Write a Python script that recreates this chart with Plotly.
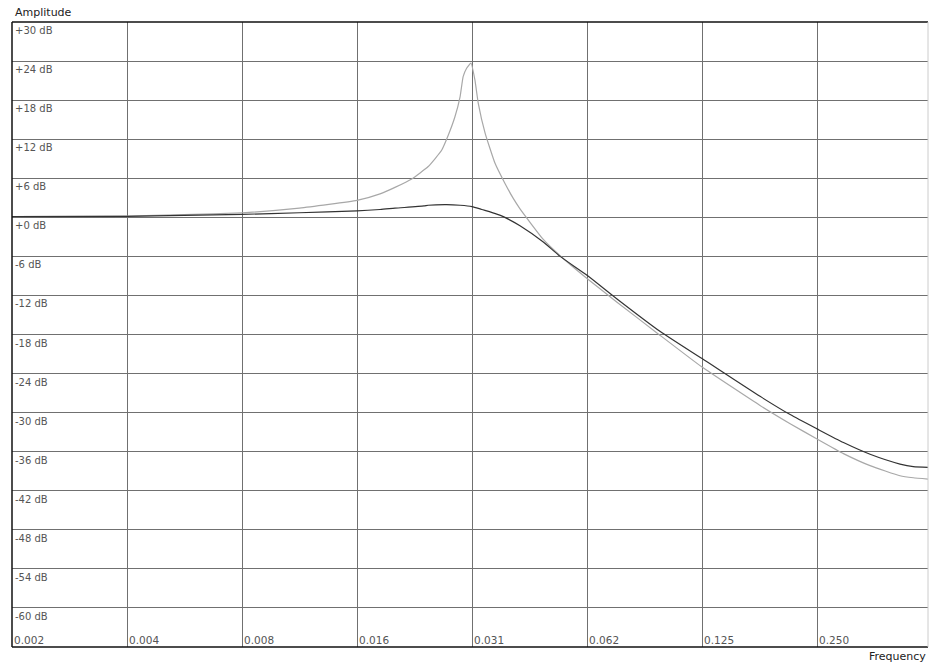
import math
import plotly.graph_objects as go

# ---- data ----
x_tick_vals = [1/512, 1/256, 1/128, 1/64, 1/32, 1/16, 1/8, 1/4]
x_tick_text = ["0.002", "0.004", "0.008", "0.016", "0.031", "0.062", "0.125", "0.250"]
y_tick_vals = [30, 24, 18, 12, 6, 0, -6, -12, -18, -24, -30, -36, -42, -48, -54, -60]
y_tick_text = ["+30 dB", "+24 dB", "+18 dB", "+12 dB", "+6 dB", "+0 dB", "-6 dB", "-12 dB",
               "-18 dB", "-24 dB", "-30 dB", "-36 dB", "-42 dB", "-48 dB", "-54 dB", "-60 dB"]

light_freq = [0.001953, 0.003906, 0.00551, 0.0078125, 0.01104, 0.015625, 0.01795, 0.01964,
              0.02173, 0.02400, 0.02602, 0.02708, 0.02818, 0.02908, 0.02962, 0.03025,
              0.03105, 0.03180, 0.03245, 0.03383, 0.03590, 0.03812, 0.04007, 0.04173,
              0.04802, 0.05315, 0.0625, 0.07474, 0.09697, 0.125, 0.1773, 0.2126, 0.25,
              0.2932, 0.3442, 0.4123, 0.4466, 0.488]
light_db = [0.1, 0.2, 0.4, 0.7, 1.4, 2.6, 3.6, 4.6,
            5.9, 7.8, 10.3, 12.6, 15.4, 18.5, 21.6, 22.9,
            23.7, 21.1, 17.5, 12.9, 8.3, 5.2, 2.9, 1.3,
            -3.4, -5.9, -9.4, -13.0, -18.1, -23.0, -28.9, -31.7, -34.05,
            -36.3, -38.15, -39.7, -40.0, -40.2]

dark_freq = [0.001953, 0.003906, 0.00551, 0.0078125, 0.01104, 0.015625, 0.01795, 0.01964,
             0.0234, 0.02400, 0.0268, 0.02908, 0.03125, 0.03314, 0.03628, 0.03774, 0.04173,
             0.04802, 0.05315, 0.0625, 0.07474, 0.09697, 0.125, 0.1773, 0.2126, 0.25,
             0.2932, 0.3442, 0.4123, 0.4466, 0.488]
dark_db = [0.1, 0.15, 0.3, 0.45, 0.7, 1.0, 1.2, 1.4,
           1.75, 1.85, 1.95, 1.85, 1.65, 1.2, 0.5, 0.1, -1.3,
           -3.8, -6.0, -8.9, -12.5, -17.5, -21.7, -27.5, -30.3, -32.5,
           -34.6, -36.4, -37.9, -38.3, -38.4]

x_min, x_max = 1/512, 0.488
y_min, y_max = -66, 30

fig = go.Figure()
fig.add_trace(go.Scatter(x=light_freq, y=light_db, mode="lines",
                         line=dict(color="#a8a8a8", width=1.2, shape="spline", smoothing=0.4),
                         hoverinfo="skip", showlegend=False))
fig.add_trace(go.Scatter(x=dark_freq, y=dark_db, mode="lines",
                         line=dict(color="#333333", width=1.2, shape="spline", smoothing=0.6),
                         hoverinfo="skip", showlegend=False))

annotations = []
for v, t in zip(y_tick_vals, y_tick_text):
    annotations.append(dict(x=0, xref="paper", y=v, yref="y", text=t, showarrow=False,
                            xanchor="left", yanchor="top", xshift=1, yshift=-1,
                            font=dict(family="DejaVu Sans", size=10, color="#555555")))
for v, t in zip(x_tick_vals, x_tick_text):
    annotations.append(dict(x=math.log10(v), xref="x", y=0, yref="paper", text=t, showarrow=False,
                            xanchor="left", yanchor="bottom", xshift=0, yshift=-1,
                            font=dict(family="DejaVu Sans", size=10.5, color="#555555")))
annotations.append(dict(x=0, xref="paper", y=1, yref="paper", text="Amplitude", showarrow=False,
                        xanchor="left", yanchor="bottom", xshift=1, yshift=1,
                        font=dict(family="DejaVu Sans", size=11, color="#222222")))
annotations.append(dict(x=1, xref="paper", y=0, yref="paper", text="Frequency", showarrow=False,
                        xanchor="right", yanchor="top", xshift=0, yshift=-1,
                        font=dict(family="DejaVu Sans", size=11, color="#222222")))

fig.update_layout(
    width=929, height=665,
    margin=dict(l=12, r=1, t=22, b=18),
    paper_bgcolor="white", plot_bgcolor="white",
    annotations=annotations,
    xaxis=dict(type="log", range=[math.log10(x_min), math.log10(x_max)],
               tickvals=x_tick_vals, showticklabels=False, ticks="",
               showgrid=True, gridcolor="#707070", gridwidth=1,
               zeroline=False, showline=False, fixedrange=True),
    yaxis=dict(range=[y_min, y_max], tickvals=y_tick_vals, showticklabels=False, ticks="",
               showgrid=True, gridcolor="#707070", gridwidth=1,
               zeroline=False, showline=False, fixedrange=True),
    shapes=[
        dict(type="line", xref="paper", yref="paper", x0=0, x1=0, y0=0, y1=1,
             line=dict(color="#111111", width=1.5)),
        dict(type="line", xref="paper", yref="paper", x0=0, x1=1, y0=0, y1=0,
             line=dict(color="#111111", width=1.5)),
        dict(type="line", xref="paper", yref="paper", x0=0, x1=1, y0=1, y1=1,
             line=dict(color="#111111", width=1.5)),
        dict(type="line", xref="paper", yref="paper", x0=1, x1=1, y0=0, y1=1,
             line=dict(color="#cccccc", width=1)),
    ],
)

fig.write_html("out.html", config={"displayModeBar": False},
               post_script="document.body.style.margin='0';document.body.style.overflow='hidden';")
